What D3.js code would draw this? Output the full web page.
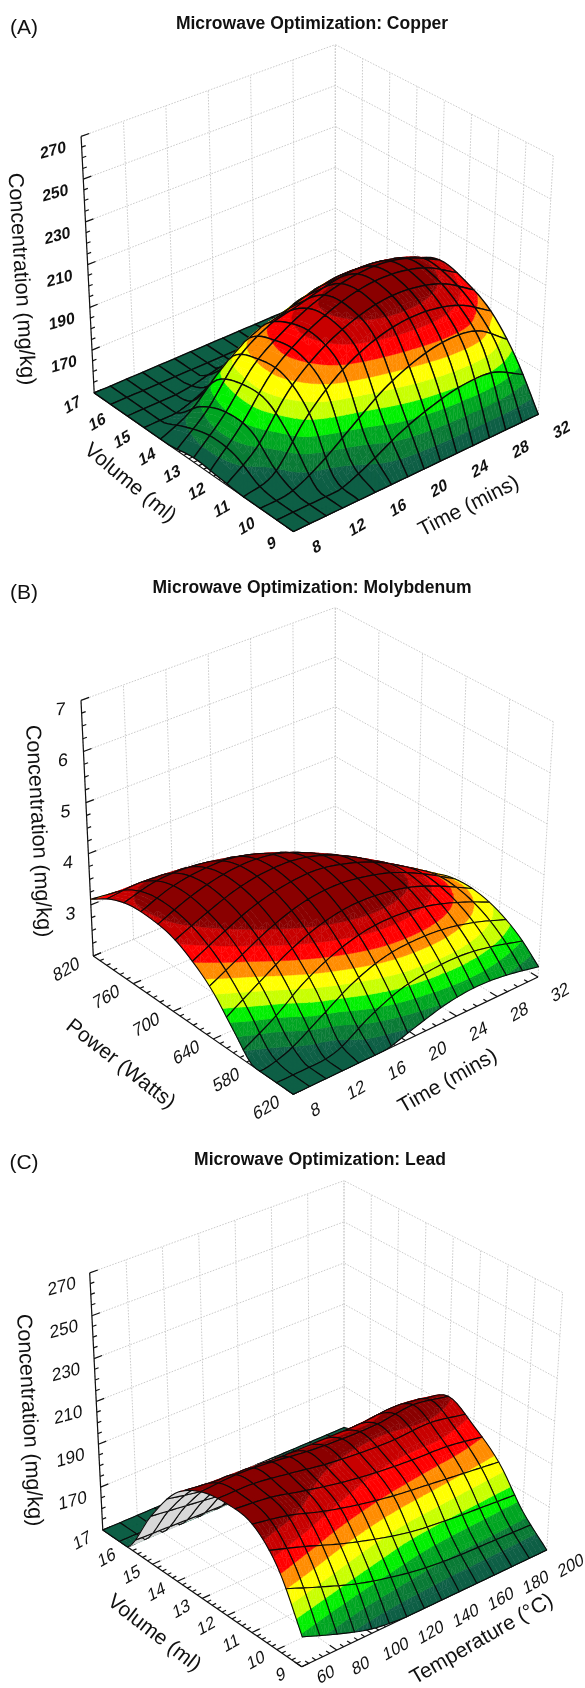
<!DOCTYPE html>
<html><head><meta charset="utf-8">
<style>html,body{margin:0;padding:0;background:#fff}svg{display:block;filter:blur(0.35px)}text{font-family:"Liberation Sans",Arial,sans-serif;fill:#111}</style>
<script src="https://cdn.jsdelivr.net/npm/d3@7"></script></head><body><div id="c"></div>
<script>
// ---------- data ----------
const bandColors=["#0e5f45","#0a7a35","#00a522","#00f000","#c8ff00","#ffff00","#ff8c00","#ff0000","#c80000","#8a0000"];

// Panel A: copper
const copperTimeKnots=[8,11,14,17,20,23,26,29,32];
const copperVolumeKnots=[9,10,11,12,13,14,15,16,17];
const copperZ=[
[150,150,150,150,150,150,150,150,150],
[150,150,152,160,170,177,181,180,170],
[150,154,172,185,193,197,197,193,184],
[151,164,182,193,200,204,204,200,191],
[152,165,182,192,199,203,204,201,194],
[150,160,176,185,188,192,194,192,187],
[150,150,155,165,172,177,180,179,172],
[150,150,150,150,150,152,156,158,155],
[150,150,150,150,150,150,150,150,150]];
const copperBands=[155.5,161,166.5,172,177.5,183,188.5,194,199.5];
const timeTicks=[8,12,16,20,24,28,32];
const volumeTicks=[9,10,11,12,13,14,15,16,17];
const concTicks=[150,170,190,210,230,250,270];

// Panel B: molybdenum
const molyTimeKnots=[8,11,14,17,20,23,26,29,32];
const molyPowerKnots=[520,550,580,610,640,670,700,730,760,790,820];
const molyZ=[
[2,2,2,2,2.17,2.33,2.39,2.33,2.2],
[2,2,2.11,2.49,2.75,2.85,2.85,2.74,2.56],
[2,2.26,2.69,3.01,3.21,3.26,3.2,3.04,2.8],
[2.42,2.78,3.15,3.42,3.56,3.56,3.45,3.22,2.93],
[2.88,3.19,3.5,3.72,3.8,3.74,3.58,3.3,2.95],
[3.2,3.49,3.75,3.9,3.94,3.82,3.59,3.24,2.84],
[3.42,3.67,3.88,3.98,3.95,3.76,3.44,3,2.55],
[3.5,3.75,3.89,3.92,3.8,3.52,3.11,2.58,2.2],
[3.5,3.69,3.74,3.68,3.47,3.1,2.6,2,2],
[3.37,3.45,3.41,3.26,2.96,2.5,2,2,2],
[3.11,3.03,2.9,2.66,2.27,2,2,2,2]];
const molyBands=[2.17,2.34,2.51,2.68,2.85,3.02,3.19,3.36,3.53];
const powerTicks=[520,580,640,700,760,820];
const powerTickLabels=["620","580","640","700","760","820"];
const molyConcTicks=[2,3,4,5,6,7];

// Panel C: lead
const leadTempKnots=[60,80,100,120,140,160,180,200];
const leadVolumeKnots=[9,10,11,12,13,14,15,16,17];
const leadZ=[
[163,157,152,150,150,150,150,150],
[186,180,174,169,165,163,162,161],
[198,195,190,186,183,181,179,177],
[200,199,196,193,191,190,190,187],
[198,199,198,196,195,195,197,194],
[190,187,186,186,186,186,187,185],
[172,170,168,167,166,166,168,170],
[150,150,150,150,150,150,151,155],
[150,150,150,150,150,150,150,150]];
const leadBands=[154.5,159,164,169,174,179,184,189,194];
const tempTicks=[60,80,100,120,140,160,180,200];

// ---------- panel layout ----------
const panels=[
 {letter:"(A)",title:"Microwave Optimization: Copper",titlePos:[312,22.5],letterPos:[24,26],
  xKnots:copperTimeKnots,yKnots:copperVolumeKnots,zVals:copperZ,bands:copperBands,
  xTicks:timeTicks,yTicks:volumeTicks,zTicks:concTicks,
  xDom:[8,32],yDom:[9,17],zDom:[150,270],xMinor:4,yMinor:5,
  cellsX:15,cellsY:12,bold:true,stroke:1.35,tickSize:16,zSize:16,
  corners:{front:[293.4,531.5],right:[538.3,414.3],left:[94.2,392.9],back:[335.3,290],
           frontT:[298,256],rightT:[553.3,156],leftT:[81.1,136.4],backT:[335.3,44.6]},
  xOff:[23,14.5],yOff:[-22,11],zOff:[-28,13],
  zLabelRot:[-15,-12],
  titles:[{t:"Concentration (mg/kg)",p:[22,279],r:86.5,s:21.5},{t:"Volume (ml)",p:[131,482],r:39.6,s:21},{t:"Time (mins)",p:[468,505],r:-27,s:21}]},
 {letter:"(B)",title:"Microwave Optimization: Molybdenum",titlePos:[312,587],letterPos:[24,591],
  xKnots:molyTimeKnots,yKnots:molyPowerKnots,zVals:molyZ,bands:molyBands,
  xTicks:timeTicks,yTicks:powerTicks,yLabels:powerTickLabels,zTicks:molyConcTicks,
  xDom:[8,32],yDom:[520,820],zDom:[2,7],xMinor:4,yMinor:6,
  cellsX:15,cellsY:12,bold:false,stroke:1.1,tickSize:17.5,zSize:18,
  corners:{front:[293.3,1094.3],right:[538,977],left:[93.3,956],back:[335.3,855.7],
           frontT:[298,818],rightT:[553.3,721.8],leftT:[81,700.4],backT:[335.3,607.5]},
  xOff:[22,15],yOff:[-27,13],zOff:[-20.4,8.6],
  zLabelRot:[-5,-8],
  titles:[{t:"Concentration (mg/kg)",p:[39,831],r:86.8,s:21.5},{t:"Power (Watts)",p:[121.5,1063],r:38,s:21},{t:"Time (mins)",p:[447,1080],r:-29.5,s:21}]},
 {letter:"(C)",title:"Microwave Optimization: Lead",titlePos:[320,1159],letterPos:[24,1161],
  xKnots:leadTempKnots,yKnots:leadVolumeKnots,zVals:leadZ,bands:leadBands,
  xTicks:tempTicks,yTicks:volumeTicks,zTicks:concTicks,
  xDom:[60,200],yDom:[9,17],zDom:[150,270],xMinor:5,yMinor:5,
  cellsX:14,cellsY:12,bold:false,stroke:1.1,tickSize:17,zSize:17.5,
  corners:{front:[301.7,1666.7],right:[546.7,1550],left:[102.8,1530],back:[344,1427.5],
           frontT:[307,1391],rightT:[562.6,1292.5],leftT:[89.7,1272.9],backT:[344,1180.7]},
  xOff:[24,15],yOff:[-21,10],zOff:[-28,13],
  zLabelRot:[-15,-12],
  titles:[{t:"Concentration (mg/kg)",p:[30,1420],r:86.8,s:21.5},{t:"Volume (ml)",p:[155,1632],r:37.8,s:21},{t:"Temperature (°C)",p:[481,1638],r:-30,s:21}]}
];

const svg=d3.select("#c").append("svg").attr("width",585).attr("height",1688);
const line=d3.line();

function catmull(a,b,c,d,s){return 0.5*((2*b)+(-a+c)*s+(2*a-5*b+4*c-d)*s*s+(-a+3*b-3*c+d)*s*s*s);}

panels.forEach(P=>{
  const g=svg.append("g");
  const C=P.corners;
  const sx=d3.scaleLinear().domain(P.xDom).range([0,1]);
  const sy=d3.scaleLinear().domain(P.yDom).range([0,1]);
  const sz=d3.scaleLinear().domain(P.zDom).range([0,1]);
  const lerp=(a,b,f)=>[a[0]+(b[0]-a[0])*f,a[1]+(b[1]-a[1])*f];
  function proj(x,y,z){
    const u=sx(x),w=sy(y),h=sz(z);
    const bot=lerp(lerp(C.front,C.right,u),lerp(C.left,C.back,u),w);
    const top=lerp(lerp(C.frontT,C.rightT,u),lerp(C.leftT,C.backT,u),w);
    return lerp(bot,top,h);
  }
  const [x0,x1]=P.xDom,[y0,y1]=P.yDom,[z0,z1]=P.zDom;
  const kx=d3.scaleLinear().domain(P.xDom).range([0,P.xKnots.length-1]);
  const ky=d3.scaleLinear().domain(P.yDom).range([0,P.yKnots.length-1]);
  function knot(r,c){
    const nr=P.zVals.length,nc=P.zVals[0].length;
    const rr=Math.max(0,Math.min(nr-1,r)),cc=Math.max(0,Math.min(nc-1,c));
    let v=P.zVals[rr][cc];
    if(r<0)v=2*P.zVals[0][cc]-P.zVals[1][cc];
    if(r>nr-1)v=2*P.zVals[nr-1][cc]-P.zVals[nr-2][cc];
    if(c<0)v+=P.zVals[rr][0]-P.zVals[rr][1];
    if(c>nc-1)v+=P.zVals[rr][nc-1]-P.zVals[rr][nc-2];
    return v;
  }
  function surf(x,y){
    const fx=kx(x),fy=ky(y);
    const ci=Math.min(P.xKnots.length-2,Math.floor(fx)),ri=Math.min(P.yKnots.length-2,Math.floor(fy));
    const s=fx-ci,t=fy-ri;
    const col=[];
    for(let r=-1;r<=2;r++){
      col.push(catmull(knot(ri+r,ci-1),knot(ri+r,ci),knot(ri+r,ci+1),knot(ri+r,ci+2),s));
    }
    return Math.max(z0,Math.min(z1,catmull(col[0],col[1],col[2],col[3],t)));
  }

  // walls and floor grid
  const gridG=g.append("g").attr("fill","none").attr("stroke","#cbcbcb").attr("stroke-width",1).attr("stroke-dasharray","1.6 1.4");
  const seg=(a,b)=>gridG.append("path").attr("d",line([a,b]));
  P.xTicks.forEach(x=>{seg(proj(x,y1,z0),proj(x,y1,z1));seg(proj(x,y0,z0),proj(x,y1,z0));});
  P.yTicks.forEach(y=>{seg(proj(x1,y,z0),proj(x1,y,z1));seg(proj(x0,y,z0),proj(x1,y,z0));});
  P.zTicks.forEach(z=>{seg(proj(x0,y1,z),proj(x1,y1,z));seg(proj(x1,y0,z),proj(x1,y1,z));});

  // axes
  const axG=g.append("g").attr("fill","none").attr("stroke","#111").attr("stroke-width",1.2);
  const aseg=(a,b)=>axG.append("path").attr("d",line([a,b]));
  aseg(proj(x0,y1,z0),proj(x0,y1,z1));
  aseg(proj(x0,y0,z0),proj(x0,y1,z0));
  aseg(proj(x0,y0,z0),proj(x1,y0,z0));
  const dz=(P.zTicks[1]-P.zTicks[0])/4;
  d3.range(z0,z1+dz/2,dz).forEach((z,i)=>{
    const m=i%4===0;
    aseg(proj(x0,y1,z),proj(x0+(x1-x0)*(m?0.032:0.016),y1,z));
  });
  const dy=(P.yTicks[1]-P.yTicks[0])/P.yMinor;
  d3.range(y0,y1+dy/2,dy).forEach((y,i)=>{
    const m=i%P.yMinor===0;
    aseg(proj(x0,y,z0),proj(x0+(x1-x0)*(m?0.032:0.016),y,z0));
  });
  const dx=(P.xTicks[1]-P.xTicks[0])/P.xMinor;
  d3.range(x0,x1+dx/2,dx).forEach((x,i)=>{
    const m=i%P.xMinor===0;
    aseg(proj(x,y0,z0),proj(x,y0+(y1-y0)*(m?0.035:0.018),z0));
  });

  // surface, painted from the back corner to the front corner
  const edges=[z0-1e6].concat(P.bands,[z1+1e6]);
  const nSub=4;
  const sxCell=d3.scaleLinear().domain([0,P.cellsX]).range(P.xDom);
  const syCell=d3.scaleLinear().domain([0,P.cellsY]).range(P.yDom);
  const fa=proj(x0,y0,z0),fb=proj(x1,y0,z0),fc=proj(x1,y1,z0);
  const area=(a,b,c)=>(b[0]-a[0])*(c[1]-a[1])-(c[0]-a[0])*(b[1]-a[1]);
  const frontSign=Math.sign(area(fa,fb,fc));
  function clip(poly,level,keepAbove){
    const out=[];
    for(let i=0;i<poly.length;i++){
      const a=poly[i],b=poly[(i+1)%poly.length];
      const ia=keepAbove?a[2]>=level:a[2]<=level,ib=keepAbove?b[2]>=level:b[2]<=level;
      if(ia)out.push(a);
      if(ia!==ib){
        const f=(level-a[2])/(b[2]-a[2]);
        out.push([a[0]+(b[0]-a[0])*f,a[1]+(b[1]-a[1])*f,level]);
      }
    }
    return out;
  }
  const surfG=g.append("g").attr("stroke-linejoin","round");
  const polyD=poly=>"M"+poly.map(q=>q[0].toFixed(2)+","+q[1].toFixed(2)).join("L")+"Z";
  for(let ci=P.cellsX-1;ci>=0;ci--){
    for(let cj=P.cellsY-1;cj>=0;cj--){
      const grid=[];
      for(let a=0;a<=nSub;a++){
        const row=[];
        for(let b=0;b<=nSub;b++){
          const x=sxCell(ci+a/nSub),y=syCell(cj+b/nSub),z=surf(x,y),p=proj(x,y,z);
          row.push([p[0],p[1],z]);
        }
        grid.push(row);
      }
      // sub-quads go back to front too; a run of one colour shares one path
      let curCol=null,curD="";
      const flush=()=>{if(curCol)surfG.append("path").attr("d",curD).attr("fill",curCol).attr("stroke",curCol).attr("stroke-width",0.45);curCol=null;curD="";};
      const add=(col,poly)=>{
        if(poly.length<3)return;
        if(col!==curCol){flush();curCol=col;}
        curD+=polyD(poly);
      };
      for(let a=nSub-1;a>=0;a--)for(let b=nSub-1;b>=0;b--){
        const A=grid[a][b],B=grid[a+1][b],D=grid[a+1][b+1],E=grid[a][b+1];
        [[A,D,E],[A,B,D]].forEach(tri=>{
          if(Math.sign(area(tri[0],tri[1],tri[2]))!==frontSign){add("#d8d8d8",tri);return;}
          const zs=tri.map(q=>q[2]),lo=d3.min(zs),hi=d3.max(zs);
          bandColors.forEach((col,k)=>{
            if(hi<edges[k]||lo>edges[k+1])return;
            let poly=clip(tri,edges[k],true);
            if(poly.length)poly=clip(poly,edges[k+1],false);
            add(col,poly);
          });
        });
      }
      flush();
      const outline=[];
      for(let a=0;a<=nSub;a++)outline.push(grid[a][0]);
      for(let b=1;b<=nSub;b++)outline.push(grid[nSub][b]);
      for(let a=nSub-1;a>=0;a--)outline.push(grid[a][nSub]);
      for(let b=nSub-1;b>=0;b--)outline.push(grid[0][b]);
      surfG.append("path").attr("d",line(outline.map(q=>[q[0],q[1]]))+"Z").attr("fill","none").attr("stroke","#0a0a0a").attr("stroke-width",P.stroke);
    }
  }

  // text
  const lab=(t,p,rot,skew,size,weight)=>g.append("text").text(t)
    .attr("transform",`translate(${p[0]},${Math.min(p[1],1674)}) rotate(${rot}) skewX(${skew})`)
    .attr("text-anchor","middle").attr("dominant-baseline","central")
    .attr("font-size",size).attr("font-weight",weight||"normal");
  const w=P.bold?"bold":"normal";
  P.xTicks.forEach(x=>{const q=proj(x,y0,z0);lab(String(x),[q[0]+P.xOff[0],q[1]+P.xOff[1]],-30,-15,P.tickSize,w);});
  P.yTicks.forEach((y,i)=>{const q=proj(x0,y,z0);lab(P.yLabels?P.yLabels[i]:String(y),[q[0]+P.yOff[0],q[1]+P.yOff[1]],-30,-15,P.tickSize,w);});
  P.zTicks.forEach((z,i)=>{if(i===0)return;const q=proj(x0,y1,z);lab(String(z),[q[0]+P.zOff[0],q[1]+P.zOff[1]],P.zLabelRot[0],P.zLabelRot[1],P.zSize,w);});
  P.titles.forEach(T=>lab(T.t,T.p,T.r,0,T.s));
  g.append("text").text(P.title).attr("x",P.titlePos[0]).attr("y",P.titlePos[1]).attr("text-anchor","middle").attr("dominant-baseline","central").attr("font-size",17.5).attr("font-weight","bold");
  g.append("text").text(P.letter).attr("x",P.letterPos[0]).attr("y",P.letterPos[1]).attr("text-anchor","middle").attr("dominant-baseline","central").attr("font-size",21);
});
</script></body></html>
